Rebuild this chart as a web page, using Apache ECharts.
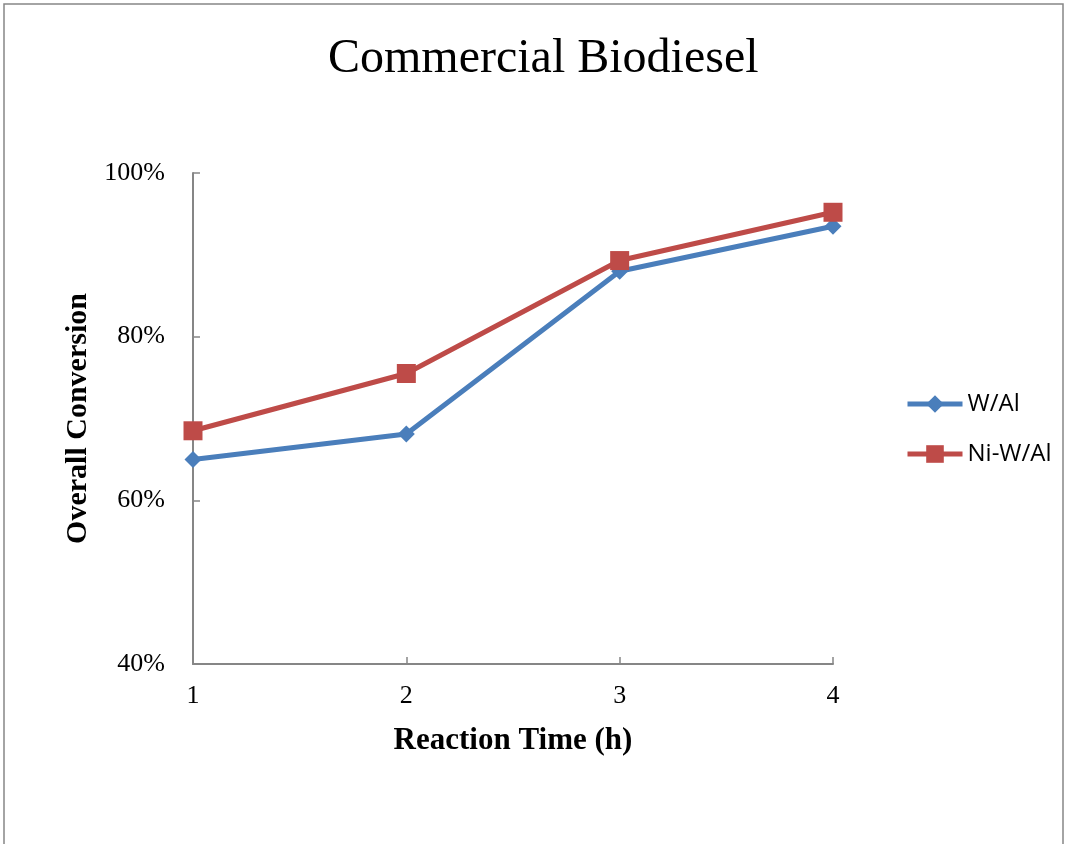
<!DOCTYPE html>
<html>
<head>
<meta charset="utf-8">
<title>Commercial Biodiesel</title>
<script src="https://cdn.jsdelivr.net/npm/echarts@6/dist/echarts.min.js"></script>
<style>
  html, body { margin: 0; padding: 0; background: #fff; }
  #chart { width: 1067px; height: 844px; }
</style>
</head>
<body>
<div id="chart"></div>
<script>
// Reaction time (h) on the x axis
const hours = ['1', '2', '3', '4'];
// Overall conversion (%) per catalyst
const wAl = [65.0, 68.1, 88.0, 93.5];
const niWAl = [68.5, 75.5, 89.3, 95.2];
const seriesNames = ['W/Al', 'Ni-W/Al'];

const axisGray = '#868686';
const serif = '"Liberation Serif", "DejaVu Serif", serif';

const chart = echarts.init(document.getElementById('chart'));
chart.setOption({
  backgroundColor: '#fff',
  animation: false,
  title: {
    text: 'Commercial Biodiesel',
    left: 323,
    top: 30,
    textStyle: { fontFamily: serif, fontSize: 48, fontWeight: 'normal', color: '#000' }
  },
  graphic: [{
    type: 'rect',
    shape: { x: 4, y: 4, width: 1059, height: 900 },
    style: { fill: 'none', stroke: axisGray, lineWidth: 1.5 },
    silent: true
  }],
  legend: {
    orient: 'vertical',
    left: 905,
    top: 392,
    padding: 0,
    itemWidth: 55,
    itemHeight: 22,
    itemGap: 26,
    data: seriesNames,
    lineStyle: { width: 5 },
    textStyle: { fontFamily: '"Open Sans", "Liberation Sans", sans-serif', fontSize: 24, color: '#000' }
  },
  grid: { left: 193, right: 234, top: 173, bottom: 180 },
  xAxis: {
    type: 'category',
    data: hours,
    boundaryGap: false,
    name: 'Reaction Time (h)',
    nameLocation: 'middle',
    nameGap: 61,
    nameTextStyle: { fontFamily: serif, fontSize: 31, fontWeight: 'bold', color: '#000' },
    axisLine: { lineStyle: { color: axisGray, width: 2 } },
    axisTick: { inside: true, length: 7, alignWithLabel: true, lineStyle: { color: axisGray, width: 1.5 } },
    axisLabel: { fontFamily: serif, fontSize: 26, color: '#000', margin: 19 },
    splitLine: { show: false }
  },
  yAxis: {
    type: 'value',
    min: 40,
    max: 100,
    interval: 20,
    name: 'Overall Conversion',
    nameLocation: 'middle',
    nameGap: 94,
    nameTextStyle: { fontFamily: serif, fontSize: 30, fontWeight: 'bold', color: '#000' },
    axisLine: { show: true, lineStyle: { color: axisGray, width: 2 } },
    axisTick: { show: true, inside: true, length: 7, lineStyle: { color: axisGray, width: 1.5 } },
    axisLabel: { fontFamily: serif, fontSize: 26, color: '#000', margin: 28, formatter: v => v + '%' },
    splitLine: { show: false }
  },
  series: [
    {
      name: seriesNames[0],
      type: 'line',
      data: wAl,
      symbol: 'diamond',
      symbolSize: 17,
      color: '#4A7EBB',
      lineStyle: { width: 5, color: '#4A7EBB' },
      itemStyle: { color: '#4A7EBB' },
      z: 2
    },
    {
      name: seriesNames[1],
      type: 'line',
      data: niWAl,
      symbol: 'rect',
      symbolSize: 19,
      color: '#BE4B48',
      lineStyle: { width: 5, color: '#BE4B48' },
      itemStyle: { color: '#BE4B48' },
      z: 3
    }
  ]
});
</script>
</body>
</html>
